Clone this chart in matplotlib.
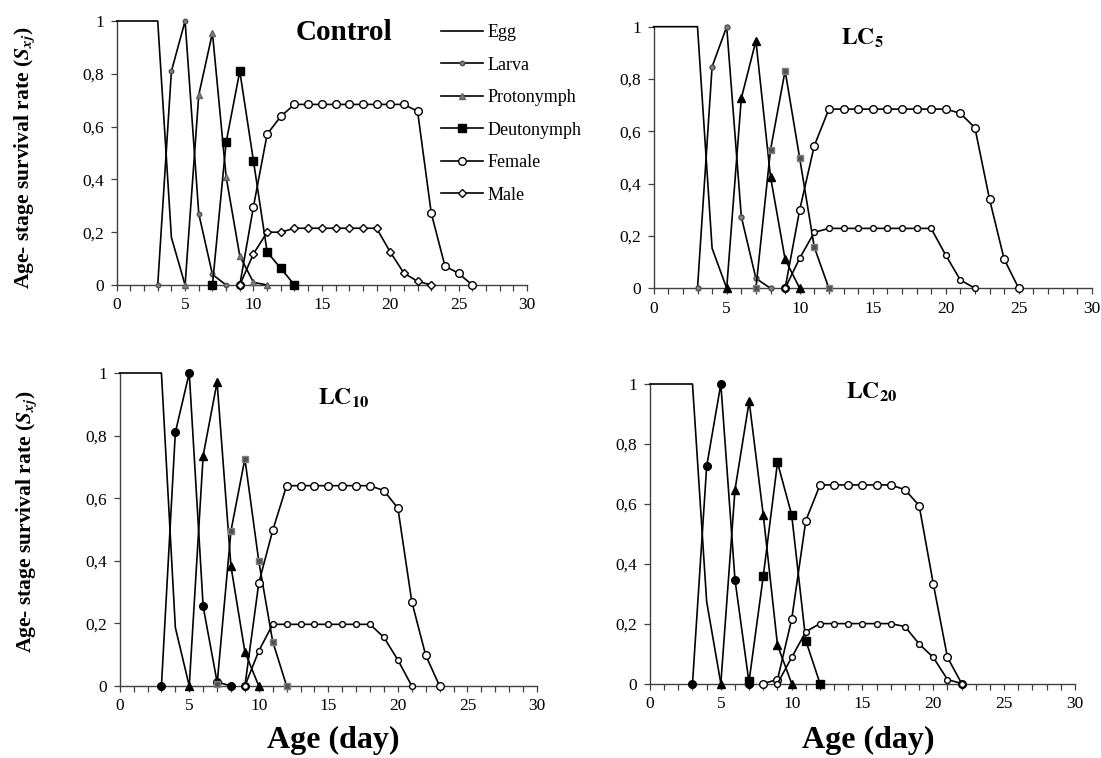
import matplotlib
matplotlib.use("Agg")
import matplotlib.pyplot as plt
from matplotlib.ticker import MultipleLocator, FuncFormatter

plt.rcParams['font.family'] = ['Liberation Serif', 'DejaVu Serif']
plt.rcParams['mathtext.fontset'] = 'stix'

stages = ["Egg", "Larva", "Protonymph", "Deutonymph", "Female", "Male"]
panel_titles = ["Control", r"$\mathbf{LC_{5}}$", r"$\mathbf{LC_{10}}$", r"$\mathbf{LC_{20}}$"]
x_ticks = [0, 5, 10, 15, 20, 25, 30]
y_ticks = [0, 0.2, 0.4, 0.6, 0.8, 1.0]

# ---------------- Control ----------------
ctrl_egg_x = [0, 1, 2, 3, 4, 5]
ctrl_egg_y = [1, 1, 1, 1, 0.18, 0]
ctrl_larva_x = [3, 4, 5, 6, 7, 8]
ctrl_larva_y = [0, 0.81, 1.0, 0.27, 0.04, 0]
ctrl_proto_x = [5, 6, 7, 8, 9, 10, 11]
ctrl_proto_y = [0, 0.72, 0.955, 0.41, 0.11, 0.01, 0]
ctrl_deuto_x = [7, 8, 9, 10, 11, 12, 13]
ctrl_deuto_y = [0, 0.54, 0.81, 0.47, 0.125, 0.063, 0]
ctrl_female_x = [9, 10, 11, 12, 13, 14, 15, 16, 17, 18, 19, 20, 21, 22, 23, 24, 25, 26]
ctrl_female_y = [0, 0.297, 0.571, 0.639, 0.684, 0.684, 0.684, 0.684, 0.684, 0.684, 0.684,
                 0.684, 0.684, 0.658, 0.272, 0.072, 0.044, 0]
ctrl_male_x = [9, 10, 11, 12, 13, 14, 15, 16, 17, 18, 19, 20, 21, 22, 23]
ctrl_male_y = [0, 0.118, 0.2, 0.2, 0.215, 0.215, 0.215, 0.215, 0.215, 0.215, 0.215,
               0.125, 0.045, 0.014, 0]

# ---------------- LC5 ----------------
lc5_egg_x = [0, 1, 2, 3, 4, 5]
lc5_egg_y = [1, 1, 1, 1, 0.153, 0]
lc5_larva_x = [3, 4, 5, 6, 7, 8]
lc5_larva_y = [0, 0.847, 1.0, 0.274, 0.038, 0]
lc5_proto_x = [5, 6, 7, 8, 9, 10]
lc5_proto_y = [0, 0.726, 0.946, 0.427, 0.111, 0]
lc5_deuto_x = [7, 8, 9, 10, 11, 12]
lc5_deuto_y = [0, 0.529, 0.832, 0.497, 0.157, 0]
lc5_female_x = [9, 10, 11, 12, 13, 14, 15, 16, 17, 18, 19, 20, 21, 22, 23, 24, 25]
lc5_female_y = [0, 0.30, 0.545, 0.685, 0.685, 0.685, 0.685, 0.685, 0.685, 0.685, 0.685,
                0.685, 0.669, 0.614, 0.341, 0.112, 0]
lc5_male_x = [9, 10, 11, 12, 13, 14, 15, 16, 17, 18, 19, 20, 21, 22]
lc5_male_y = [0, 0.115, 0.214, 0.229, 0.229, 0.229, 0.229, 0.229, 0.229, 0.229, 0.229,
              0.127, 0.032, 0]

# ---------------- LC10 ----------------
lc10_egg_x = [0, 1, 2, 3, 4, 5]
lc10_egg_y = [1, 1, 1, 1, 0.187, 0]
lc10_larva_x = [3, 4, 5, 6, 7, 8]
lc10_larva_y = [0, 0.81, 1.0, 0.254, 0.013, 0]
lc10_proto_x = [5, 6, 7, 8, 9, 10]
lc10_proto_y = [0, 0.736, 0.971, 0.382, 0.109, 0]
lc10_deuto_x = [7, 8, 9, 10, 11, 12]
lc10_deuto_y = [0.005, 0.496, 0.726, 0.398, 0.142, 0]
lc10_female_x = [9, 10, 11, 12, 13, 14, 15, 16, 17, 18, 19, 20, 21, 22, 23]
lc10_female_y = [0, 0.329, 0.497, 0.640, 0.640, 0.640, 0.640, 0.640, 0.640, 0.640,
                 0.624, 0.568, 0.269, 0.098, 0]
lc10_male_x = [9, 10, 11, 12, 13, 14, 15, 16, 17, 18, 19, 20, 21]
lc10_male_y = [0, 0.112, 0.197, 0.197, 0.197, 0.197, 0.197, 0.197, 0.197, 0.197,
               0.155, 0.083, 0]

# ---------------- LC20 ----------------
lc20_egg_x = [0, 1, 2, 3, 4, 5]
lc20_egg_y = [1, 1, 1, 1, 0.273, 0]
lc20_larva_x = [3, 4, 5, 6, 7]
lc20_larva_y = [0, 0.725, 1.0, 0.346, 0.0]
lc20_proto_x = [5, 6, 7, 8, 9, 10]
lc20_proto_y = [0, 0.647, 0.942, 0.561, 0.128, 0]
lc20_deuto_x = [7, 8, 9, 10, 11, 12]
lc20_deuto_y = [0.01, 0.36, 0.738, 0.563, 0.143, 0]
lc20_female_x = [8, 9, 10, 11, 12, 13, 14, 15, 16, 17, 18, 19, 20, 21, 22]
lc20_female_y = [0, 0.013, 0.214, 0.544, 0.663, 0.663, 0.663, 0.663, 0.663, 0.663,
                 0.647, 0.594, 0.332, 0.087, 0]
lc20_male_x = [9, 10, 11, 12, 13, 14, 15, 16, 17, 18, 19, 20, 21, 22]
lc20_male_y = [0, 0.087, 0.173, 0.2, 0.2, 0.2, 0.2, 0.2, 0.2, 0.19, 0.132, 0.087, 0.013, 0]

panels = [
    [(ctrl_egg_x, ctrl_egg_y), (ctrl_larva_x, ctrl_larva_y), (ctrl_proto_x, ctrl_proto_y),
     (ctrl_deuto_x, ctrl_deuto_y), (ctrl_female_x, ctrl_female_y), (ctrl_male_x, ctrl_male_y)],
    [(lc5_egg_x, lc5_egg_y), (lc5_larva_x, lc5_larva_y), (lc5_proto_x, lc5_proto_y),
     (lc5_deuto_x, lc5_deuto_y), (lc5_female_x, lc5_female_y), (lc5_male_x, lc5_male_y)],
    [(lc10_egg_x, lc10_egg_y), (lc10_larva_x, lc10_larva_y), (lc10_proto_x, lc10_proto_y),
     (lc10_deuto_x, lc10_deuto_y), (lc10_female_x, lc10_female_y), (lc10_male_x, lc10_male_y)],
    [(lc20_egg_x, lc20_egg_y), (lc20_larva_x, lc20_larva_y), (lc20_proto_x, lc20_proto_y),
     (lc20_deuto_x, lc20_deuto_y), (lc20_female_x, lc20_female_y), (lc20_male_x, lc20_male_y)],
]

# marker styles per panel: (marker, size, facecolor, edgecolor)
G = '#808080'
styles = [
    [None, ('o', 3.2, G, '#505050'), ('^', 4.2, G, '#606060'), ('s', 5.5, 'black', 'black'),
     ('o', 5.5, 'white', 'black'), ('D', 3.6, 'white', 'black')],
    [None, ('o', 3.6, G, '#505050'), ('^', 5.5, 'black', 'black'), ('s', 5.0, '#505050', '#808080'),
     ('o', 5.5, 'white', 'black'), ('o', 4.2, 'white', 'black')],
    [None, ('o', 5.5, 'black', 'black'), ('^', 5.5, 'black', 'black'), ('s', 5.0, '#505050', '#808080'),
     ('o', 5.5, 'white', 'black'), ('o', 4.2, 'white', 'black')],
    [None, ('o', 5.5, 'black', 'black'), ('^', 5.5, 'black', 'black'), ('s', 5.5, 'black', 'black'),
     ('o', 5.5, 'white', 'black'), ('o', 4.2, 'white', 'black')],
]

W, H = 1101, 758
fig = plt.figure(figsize=(W / 100, H / 100), dpi=100)

# axes rectangles from pixel positions (x0, x30, y0, y1)
rects_px = [(116.7, 527, 285, 21), (653.7, 1091.7, 288.3, 26.7),
            (119.7, 537, 686, 373), (650, 1075, 683.5, 384)]
title_pos = [(344, 33, 21), (862, 38, 17), (344, 398, 17), (872, 392, 17)]

def comma_fmt(v, pos):
    if abs(v) < 1e-9:
        return "0"
    if abs(v - 1) < 1e-9:
        return "1"
    return ("%.1f" % v).replace(".", ",")

axes = []
for i, (x0, x1, y0, y1) in enumerate(rects_px):
    ax = fig.add_axes([x0 / W, 1 - y0 / H, (x1 - x0) / W, (y0 - y1) / H])
    axes.append(ax)
    for j, (xs, ys) in enumerate(panels[i]):
        st = styles[i][j]
        if st is None:
            ax.plot(xs, ys, color='black', lw=1.2, clip_on=False, label=stages[j], zorder=3)
        else:
            m, ms, fc, ec = st
            ax.plot(xs, ys, color='black', lw=1.2, marker=m, ms=ms, mfc=fc, mec=ec,
                    mew=1.0, clip_on=False, label=stages[j], zorder=3 + j)
    ax.set_xlim(0, 30)
    ax.set_ylim(0, 1)
    for s in ['top', 'right']:
        ax.spines[s].set_visible(False)
    for s in ['left', 'bottom']:
        ax.spines[s].set_color('#404040')
        ax.spines[s].set_linewidth(1.0)
    ax.set_xticks(x_ticks)
    ax.xaxis.set_minor_locator(MultipleLocator(1))
    ax.set_yticks(y_ticks)
    ax.yaxis.set_major_formatter(FuncFormatter(comma_fmt))
    ax.tick_params(axis='both', which='both', direction='out', length=4, width=0.9,
                   color='#404040', labelsize=12.5, pad=5)
    tx, ty, fs = title_pos[i]
    fig.text(tx / W, 1 - ty / H, panel_titles[i], ha='center', va='center',
             fontsize=fs, fontweight='bold')

# legend (in the top-left panel area)
handles, labels = axes[0].get_legend_handles_labels()
fig.legend(handles, labels, loc='upper left', bbox_to_anchor=(441 / W, 1 - 24 / H),
           frameon=False, fontsize=13, handlelength=2.3, handletextpad=0.3,
           labelspacing=0.86, borderpad=0, borderaxespad=0)

ylab = r'Age- stage survival rate ($\mathbfit{S}_{\mathbfit{xj}}$)'
fig.text(25 / W, 1 - 158 / H, ylab, rotation=90, ha='center', va='center',
         fontsize=15.5, fontweight='bold')
fig.text(27 / W, 1 - 522 / H, ylab, rotation=90, ha='center', va='center',
         fontsize=15.5, fontweight='bold')
fig.text(333 / W, 1 - 740 / H, 'Age (day)', ha='center', va='center',
         fontsize=23, fontweight='bold')
fig.text(868 / W, 1 - 740 / H, 'Age (day)', ha='center', va='center',
         fontsize=23, fontweight='bold')

fig.savefig('out.png', dpi=100)
